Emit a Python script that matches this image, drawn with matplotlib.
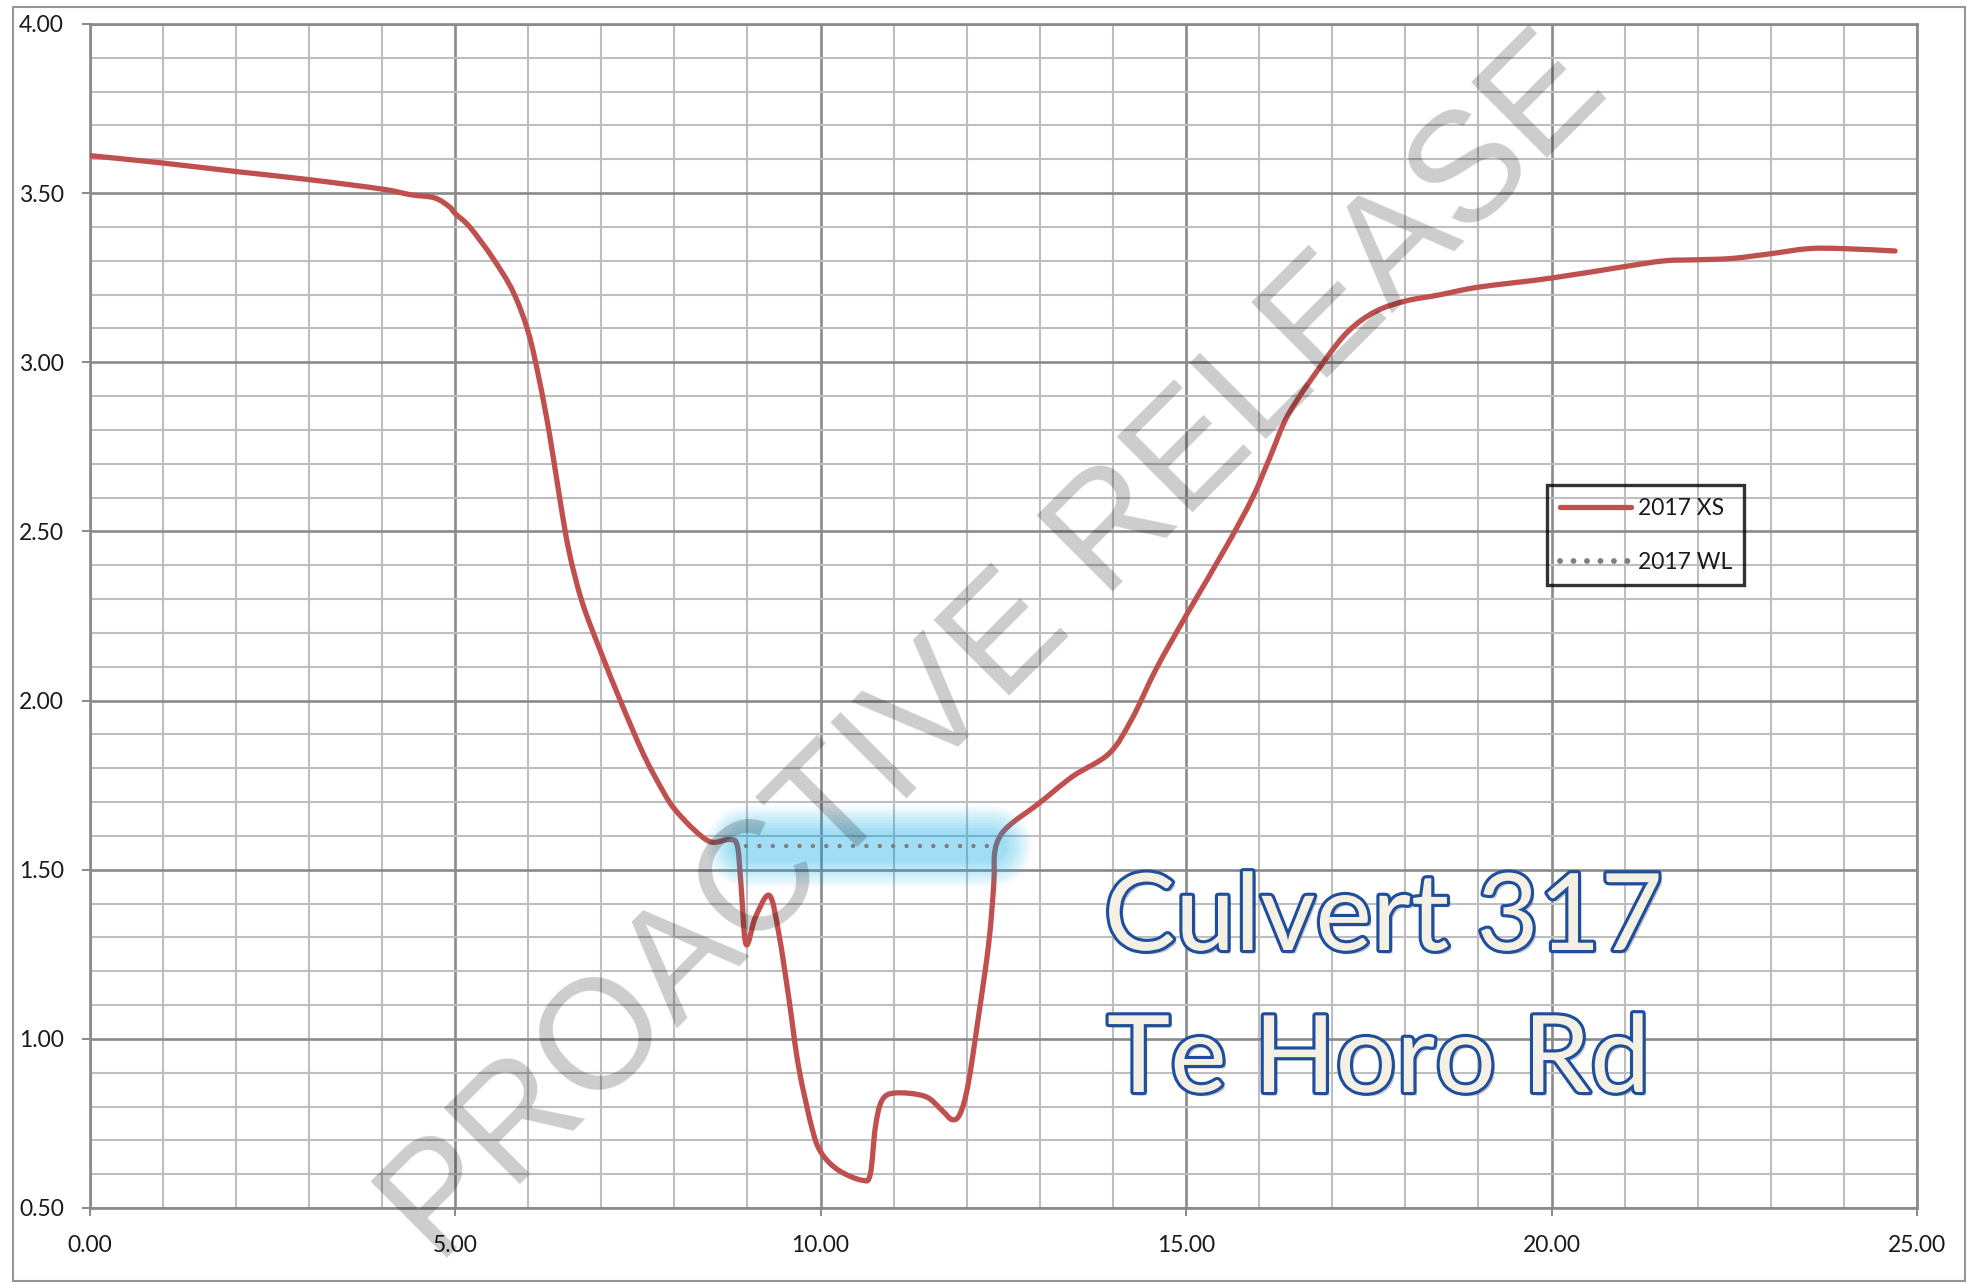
import numpy as np
import matplotlib
matplotlib.use('Agg')
from matplotlib import pyplot as plt
import matplotlib.patheffects as pe
from matplotlib.patches import Rectangle, PathPatch
from matplotlib.path import Path
from matplotlib.lines import Line2D
from matplotlib.ticker import MultipleLocator, FormatStrFormatter

plt.rcParams['font.family'] = ['Lato', 'DejaVu Sans']

# 2017 cross section: chainage (m) and bed level (m)
xs_x = [0.0, 1.0, 2.0, 3.0, 4.0, 4.4, 4.72, 4.92, 5.0, 5.2, 5.51, 5.79, 6.0, 6.15,
        6.29, 6.43, 6.56, 6.74, 7.0, 7.26, 7.58, 7.85, 8.0, 8.26, 8.5, 8.75, 8.86,
        8.91, 8.98, 9.11, 9.3, 9.43, 9.57, 9.7, 9.89, 10.02, 10.25, 10.57, 10.68,
        10.75, 10.84, 11.02, 11.43, 11.66, 11.8, 11.91, 12.02, 12.16, 12.3, 12.37,
        12.38, 12.45, 12.61, 12.98, 13.45, 13.95, 14.26, 14.59, 15.0, 15.55, 15.91,
        16.14, 16.41, 16.91, 17.23, 17.59, 18.0, 18.46, 19.0, 20.0, 21.0, 21.55,
        22.0, 22.47, 23.0, 23.52, 24.0, 24.7]
xs_y = [3.611, 3.589, 3.564, 3.54, 3.512, 3.495, 3.486, 3.46, 3.44, 3.4, 3.31, 3.21,
        3.09, 2.95, 2.79, 2.6, 2.44, 2.29, 2.14, 2.0, 1.84, 1.73, 1.68, 1.62, 1.582,
        1.589, 1.572, 1.46, 1.28, 1.36, 1.424, 1.31, 1.114, 0.917, 0.73, 0.66, 0.611,
        0.582, 0.6, 0.739, 0.818, 0.84, 0.83, 0.789, 0.761, 0.779, 0.867, 1.065,
        1.281, 1.459, 1.547, 1.597, 1.636, 1.695, 1.776, 1.844, 1.946, 2.093, 2.251,
        2.455, 2.6, 2.715, 2.85, 3.009, 3.094, 3.15, 3.181, 3.199, 3.222, 3.249,
        3.283, 3.3, 3.303, 3.307, 3.321, 3.336, 3.336, 3.329]

# 2017 water level
wl_x = [8.98, 12.33]
wl_y = [1.57, 1.57]

labels = ['2017 XS', '2017 WL']
site_lines = ['Culvert 317', 'Te Horo Rd']
stamp = 'PROACTIVE RELEASE'

W, H = 1979, 1283
XS_COL = '#c0504d'
WL_COL = '#7f7f7f'


def px(x, y):
    return x / W, 1 - y / H


def smooth_path(x, y):
    # cubic bezier through every point (same idea as a spreadsheet "smoothed line")
    p = np.column_stack([x, y])
    n = len(p)
    verts = [p[0]]
    codes = [Path.MOVETO]
    for i in range(n - 1):
        p0 = p[i - 1] if i > 0 else p[i]
        p3 = p[i + 2] if i + 2 < n else p[i + 1]
        c1 = p[i] + (p[i + 1] - p0) / 6
        c2 = p[i + 1] - (p3 - p[i]) / 6
        verts += [c1, c2, p[i + 1]]
        codes += [Path.CURVE4] * 3
    return Path(verts, codes)


fig = plt.figure(figsize=(W / 100, H / 100), dpi=100)
ax = fig.add_axes([89.6 / W, 1 - 1208 / H, (1917 - 89.6) / W, (1208 - 24) / H])

ax.set_xlim(0, 25)
ax.set_ylim(0.5, 4.0)
ax.xaxis.set_major_locator(MultipleLocator(5))
ax.xaxis.set_minor_locator(MultipleLocator(1))
ax.yaxis.set_major_locator(MultipleLocator(0.5))
ax.yaxis.set_minor_locator(MultipleLocator(0.1))
ax.xaxis.set_major_formatter(FormatStrFormatter('%.2f'))
ax.yaxis.set_major_formatter(FormatStrFormatter('%.2f'))

ax.set_axisbelow(True)
ax.grid(which='minor', color='#bebebe', lw=1.5)
ax.grid(which='major', color='#8a8a8a', lw=1.9)
ax.tick_params(which='minor', length=0)
ax.tick_params(which='major', length=5.5, width=1.4, color='#8a8a8a',
               labelsize=16.5, labelcolor='#1a1a1a')
ax.tick_params(axis='x', pad=14)
ax.tick_params(axis='y', pad=13)
for s in ax.spines.values():
    s.set_color('#8a8a8a')
    s.set_linewidth(1.9)

ax.add_patch(PathPatch(smooth_path(xs_x, xs_y), fill=False, edgecolor=XS_COL,
                       lw=3.8, capstyle='round', joinstyle='round', zorder=3))

# soft glow round the water level
for w in np.linspace(58, 22, 10):
    ax.plot(wl_x, wl_y, color='#00b0f0', lw=w, alpha=0.045,
            solid_capstyle='round', zorder=4)

ax.plot(wl_x, wl_y, color=WL_COL, lw=3.2, linestyle=(0, (0.01, 3.0)),
        dash_capstyle='round', zorder=5)

handles = [Line2D([], [], color=XS_COL, lw=3.8, solid_capstyle='round'),
           Line2D([], [], color=WL_COL, lw=4.2, linestyle=(0, (0.01, 2.3)),
                  dash_capstyle='round')]
leg = ax.legend(handles, labels, loc='upper left', bbox_to_anchor=px(1547, 485),
                bbox_transform=fig.transFigure, frameon=True, fancybox=False,
                facecolor='none', edgecolor='black', fontsize=16.5,
                handlelength=3.1, handletextpad=0.3, borderpad=0.55,
                labelspacing=1.45, borderaxespad=0)
leg.get_frame().set_linewidth(2.4)
for t in leg.get_texts():
    t.set_color('#1a1a1a')

for txt, (x, y) in zip(site_lines, [(1104, 950), (1107, 1092)]):
    fig.text(*px(x, y), txt, fontsize=77, color='#f4f0e3', ha='left', va='baseline',
             path_effects=[pe.SimplePatchShadow(offset=(2.5, -2.5), shadow_rgbFace='#555555', alpha=0.35),
                           pe.Stroke(linewidth=4.5, foreground='#1f4e9c'),
                           pe.Normal()])

fig.text(*px(1025, 680), stamp, fontsize=112, family='Liberation Sans',
         rotation=45, rotation_mode='anchor', ha='center', va='baseline',
         color='black', alpha=0.2, zorder=10)

fig.patches.append(Rectangle(px(13, 1281), (1965 - 13) / W, (1281 - 7) / H,
                             transform=fig.transFigure, fill=False,
                             edgecolor='#969696', lw=1.5))

fig.savefig('out.png', dpi=100)
